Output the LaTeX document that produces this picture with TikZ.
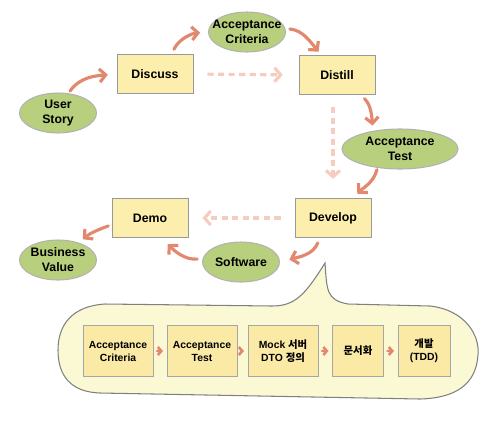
\documentclass[tikz,border=0pt]{standalone}
\usepackage{fontspec}
\setmainfont{Liberation Sans}
\newfontfamily\kr{Noto Sans CJK KR}
\usepackage{tikz}
\usetikzlibrary{shapes.geometric}
\usetikzlibrary{arrows.meta}
\definecolor{flowred}{RGB}{226,136,110}
\definecolor{skipred}{RGB}{246,204,192}
\definecolor{stagefill}{RGB}{252,238,172}
\definecolor{artifactfill}{RGB}{184,207,126}
\definecolor{bubblefill}{RGB}{250,249,212}
\definecolor{taskfill}{RGB}{251,233,166}

\begin{document}
\begin{tikzpicture}[x=0.02cm,y=0.02cm,
    stage/.style={rectangle,draw=black!40,fill=stagefill,line width=0.5pt,minimum width=1.52cm,minimum height=0.78cm,font=\fontsize{7}{8.5}\selectfont\bfseries,align=center},
    artifact/.style={ellipse,draw=black!30,fill=artifactfill,line width=0.6pt,minimum width=1.54cm,minimum height=0.8cm,inner xsep=-6pt,inner ysep=0pt,font=\fontsize{7}{8.5}\selectfont\bfseries,align=center},
    flow/.style={draw=flowred,line width=1.8pt,line cap=round,-{Straight Barb[length=3.5pt,width=7.5pt]}},
    skip/.style={draw=skipred,line width=1.8pt,dash pattern=on 3.5pt off 2.5pt,-{Straight Barb[length=3.5pt,width=8pt]}},
    task/.style={rectangle,draw=black!35,fill=taskfill,line width=0.5pt,minimum width=1.4cm,minimum height=1.02cm,font=\fontsize{5.9}{7.4}\selectfont\bfseries,align=center},
    taskarrow/.style={draw=flowred,line width=1.5pt,line cap=round,-{Straight Barb[length=2pt,width=4.5pt]},shorten <=2pt,shorten >=2pt}]
    \useasboundingbox (0,0) rectangle (499,-420);

    % cycle
    \node[artifact] (story) at (58,-113) {User\\Story};
    \node[stage] (discuss) at (155,-74) {Discuss};
    \node[artifact] (crit) at (247,-32) {Acceptance\\Criteria};
    \node[stage] (distill) at (337,-75) {Distill};
    \node[artifact,minimum width=2.32cm] (acctest) at (400,-149) {Acceptance\\Test};
    \node[stage] (develop) at (333,-218) {Develop};
    \node[artifact] (software) at (241,-262) {Software};
    \node[stage] (demo) at (150,-218) {Demo};
    \node[artifact] (business) at (58,-260) {Business\\Value};

    \draw[flow,shorten <=1.5pt,shorten >=5pt] (story.62) to[out=55,in=185] (discuss.west);
    \draw[flow,shorten <=3pt,shorten >=4.5pt] (discuss.50) to[out=65,in=185] (crit.west);
    \draw[flow,shorten <=2.5pt,shorten >=2.5pt] (crit.5) to[out=-5,in=130] (distill.128);
    \draw[flow,shorten <=3pt,shorten >=3pt] (distill.-40) to[out=-45,in=95] (acctest.146);
    \draw[flow,shorten <=1pt,shorten >=3.5pt] (acctest.-140) to[out=-105,in=45] (develop.45);
    \draw[flow,shorten <=3pt,shorten >=5.5pt] (develop.-124) to[out=-110,in=15] (software.east);
    \draw[flow,shorten <=3pt,shorten >=5pt] (software.175) to[out=185,in=-45] (demo.-60);
    \draw[flow,shorten <=2pt,shorten >=3pt] (demo.190) to[out=200,in=40] (business.40);

    \draw[skip,shorten <=8pt,shorten >=9pt] (discuss.east) -- (distill.west);
    \draw[skip,shorten <=7pt,shorten >=11pt] (develop.north |- distill.south) -- (develop.north);
    \draw[skip,shorten <=8pt,shorten >=8pt] (develop.west) -- (demo.east);

    % callout
    \draw[draw=black!50,fill=bubblefill,line width=0.6pt] (325,-263)
        .. controls (327,-290) and (326,-300) .. (348,-304) -- (430,-306)
        .. controls (465,-310) and (480,-335) .. (478,-355)
        .. controls (476,-385) and (455,-398) .. (420,-399) -- (100,-393)
        .. controls (70,-392) and (58,-375) .. (58,-350)
        .. controls (58,-325) and (72,-306) .. (105,-304) -- (272,-306)
        .. controls (295,-306) and (305,-295) .. (325,-263) -- cycle;

    \node[task] (t1) at (118,-351) {Acceptance\\Criteria};
    \node[task] (t2) at (202,-351) {Acceptance\\Test};
    \node[task] (t3) at (283,-351) {Mock {\kr 서버}\\DTO {\kr 정의}};
    \node[task,minimum width=1.02cm] (t4) at (358,-351) {\kr 문서화};
    \node[task,minimum width=1.04cm] (t5) at (424,-351) {{\kr 개발}\\(TDD)};
    \foreach \a/\b in {t1/t2,t2/t3,t3/t4,t4/t5}
        \draw[taskarrow] (\a) -- (\b);
\end{tikzpicture}
\end{document}
